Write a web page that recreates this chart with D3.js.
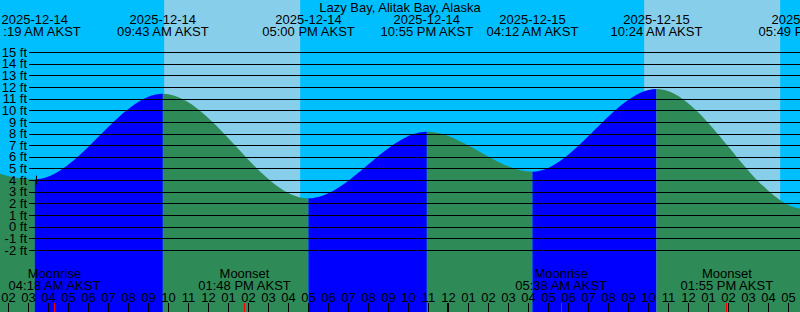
<!DOCTYPE html>
<html><head><meta charset="utf-8">
<script src="https://cdn.jsdelivr.net/npm/d3@7"></script>
<style>
html,body{margin:0;padding:0;background:#00bfff;overflow:hidden}
svg{display:block}
text{font-family:"Liberation Sans",Arial,sans-serif;fill:#000;white-space:pre}
</style>
</head><body>
<svg id="c" width="800" height="312"></svg>
<script>
// ---------- data ----------
const title = "Lazy Bay, Alitak Bay, Alaska";
const tzName = "AKST";
const tideTimes = ["2025-12-13 22:03","2025-12-14 03:19","2025-12-14 09:43","2025-12-14 17:00",
                   "2025-12-14 22:55","2025-12-15 04:12","2025-12-15 10:24","2025-12-15 17:49","2025-12-15 23:45"];
const tideHeights = [7.5, 4.1, 11.45, 2.48, 8.2, 4.77, 11.87, 1.55, 8.3];
const sunrises = ["2025-12-14 09:47","2025-12-15 09:47"];
const sunsets  = ["2025-12-14 16:35","2025-12-15 16:35"];
const moonEvents = ["Moonrise","Moonset","Moonrise","Moonset"];
const moonTimes  = ["2025-12-14 04:18","2025-12-14 13:48","2025-12-15 05:38","2025-12-15 13:55"];
const heightTicks = [-2,-1,0,1,2,3,4,5,6,7,8,9,10,11,12,13,14,15];
const markTime = "2025-12-14 03:25", markLevel = 4;
const viewStart = "2025-12-14 01:34:30", viewEnd = "2025-12-15 17:34:30";

// ---------- setup ----------
const W = 800, H = 312;
const parse = d3.utcParse("%Y-%m-%d %H:%M");
const parseS = d3.utcParse("%Y-%m-%d %H:%M:%S");
const fDate = d3.utcFormat("%Y-%m-%d");
const fTime = d3.utcFormat("%I:%M %p");
const svg = d3.select("#c");

const x = d3.scaleUtc().domain([parseS(viewStart), parseS(viewEnd)]).range([0, W]);
const y = d3.scaleLinear().domain([-2, 15]).range([250.5, 52.5]);

// sky
svg.append("rect").attr("width", W).attr("height", H).attr("fill", "#00bfff");
svg.selectAll("rect.day").data(sunrises.map((s,i)=>({a:parse(s), b:parse(sunsets[i])})))
  .join("rect").attr("class","day")
  .attr("x", d=>x(d.a)).attr("width", d=>x(d.b)-x(d.a))
  .attr("y", 0).attr("height", H).attr("fill", "#87ceeb");

// tide
const pts = tideTimes.map((t,i)=>({t:parse(t), h:tideHeights[i]}));
const area = d3.area().x(d=>x(d.t)).y0(H).y1(d=>y(d.h)).curve(d3.curveMonotoneX);
svg.append("clipPath").attr("id","tideclip").append("path").attr("d", area(pts));
const segs = d3.pairs(pts);
svg.append("g").attr("clip-path","url(#tideclip)")
  .selectAll("rect").data(segs).join("rect")
  .attr("x", d=>x(d[0].t)).attr("width", d=>x(d[1].t)-x(d[0].t))
  .attr("y", 0).attr("height", H)
  .attr("fill", d=> d[1].h > d[0].h ? "#0000ff" : "#2e8b57");

// height grid lines + labels
const gy = svg.append("g").attr("transform", `translate(${W},0)`)
  .call(d3.axisLeft(y).tickValues(heightTicks).tickSize(W-29).tickPadding(2).offset(0)
        .tickFormat(d=>d+" ft"));
gy.select(".domain").remove();
gy.selectAll("line").attr("stroke","#000").attr("shape-rendering","crispEdges");
gy.selectAll("text").attr("font-size",13).attr("font-family","Liberation Sans, Arial, sans-serif").attr("fill","#000");

// small mark
svg.append("line")
  .attr("x1", Math.floor(x(parse(markTime)))+0.5).attr("x2", Math.floor(x(parse(markTime)))+0.5)
  .attr("y1", y(markLevel)-5).attr("y2", y(markLevel)+4)
  .attr("stroke","#000");

// title
svg.append("text").attr("x", W/2).attr("y", 12).attr("text-anchor","middle")
  .attr("font-size",13).text(title);

// extreme labels
const vis = pts.filter(d => x(d.t) > -60 && x(d.t) < W+60);
const lab = svg.append("g").attr("class","ext").selectAll("g").data(vis).join("g");
lab.append("text").attr("x", d=>x(d.t)).attr("y", 24).attr("text-anchor","middle")
  .attr("font-size",13).text(d=>fDate(d.t));
lab.append("text").attr("x", d=>x(d.t)).attr("y", 36).attr("text-anchor","middle")
  .attr("font-size",13).text(d=>fTime(d.t)+" "+tzName);

// glyphs mostly outside the picture are not drawn
svg.selectAll("g.ext text").each(function(){
  const n = this.getNumberOfChars(), s = this.textContent;
  const hide = []; let any = false;
  for (let i=0;i<n;i++){ const e=this.getExtentOfChar(i); const c = e.x + e.width/2; const h = c < 0 || c > W; hide.push(h); if(h) any = true; }
  if (!any) return;
  const t = d3.select(this); t.text(null);
  for (let i=0;i<n;i++) t.append("tspan").attr("fill-opacity", hide[i]?0:1).text(s[i]);
});

// moon labels
const moon = moonTimes.map((t,i)=>({t:parse(t), name:moonEvents[i]}));
const ml = svg.append("g").selectAll("g").data(moon).join("g");
ml.append("text").attr("x", d=>x(d.t)).attr("y", 278).attr("text-anchor","middle")
  .attr("font-size",13).text(d=>d.name);
ml.append("text").attr("x", d=>x(d.t)).attr("y", 290).attr("text-anchor","middle")
  .attr("font-size",13).text(d=>fTime(d.t)+" "+tzName);

// hour axis
const gx = svg.append("g").attr("transform", `translate(0,${H})`)
  .call(d3.axisTop(x).ticks(d3.utcHour.every(1)).tickFormat(d3.utcFormat("%I"))
        .tickSize(9).tickPadding(1).offset(0));
gx.select(".domain").remove();
gx.selectAll(".tick").attr("transform", d=>`translate(${Math.floor(x(d))+0.5},0)`);
gx.selectAll("line").attr("stroke","#000");
gx.selectAll("text").attr("font-size",13).attr("font-family","Liberation Sans, Arial, sans-serif").attr("fill","#000");

// midnight tick (thicker)
const days = d3.utcDay.range(x.domain()[0], x.domain()[1]);
svg.selectAll("rect.mid").data(days).join("rect").attr("class","mid")
  .attr("x", d=>Math.floor(x(d))-1).attr("width", 2)
  .attr("y", H-9).attr("height", 9).attr("fill","#000");

// moon event ticks (red)
svg.selectAll("line.moon").data(moon).join("line").attr("class","moon")
  .attr("x1", d=>Math.floor(x(d.t))+0.5).attr("x2", d=>Math.floor(x(d.t))+0.5)
  .attr("y1", H-9).attr("y2", H).attr("stroke","#ff0000");
</script>
</body></html>
